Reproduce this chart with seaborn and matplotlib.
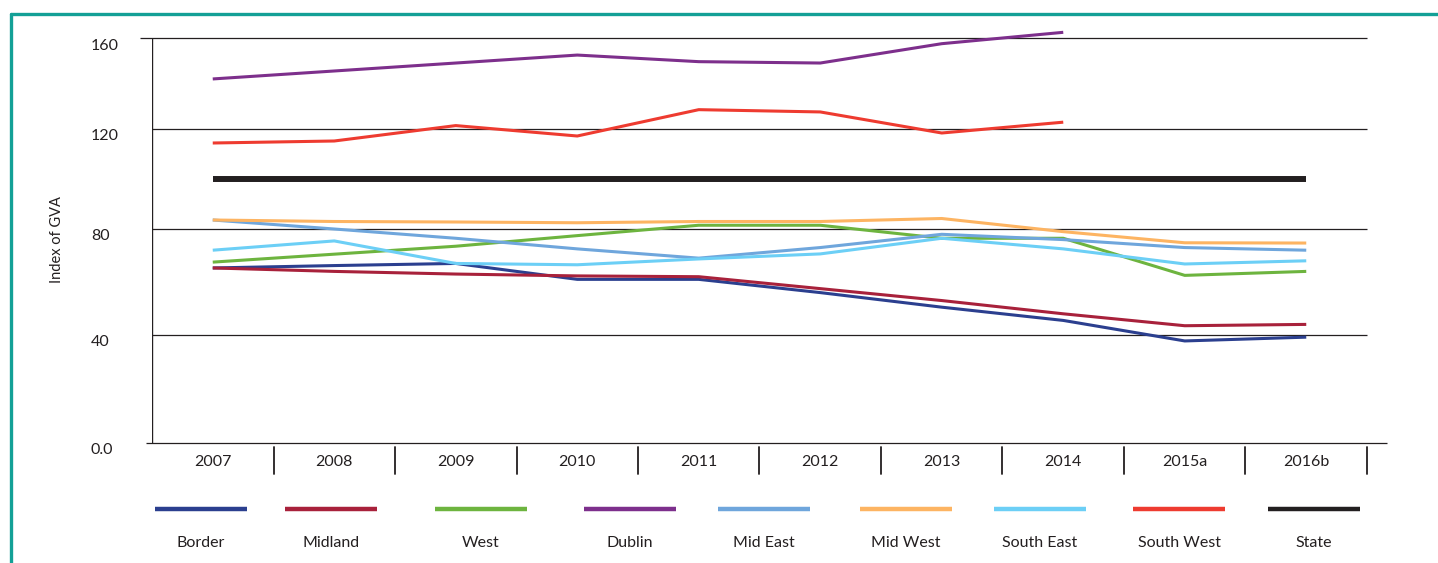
import numpy as np
import pandas as pd
import matplotlib
matplotlib.use('Agg')
import matplotlib.pyplot as plt
import matplotlib.transforms as mtransforms
from matplotlib.lines import Line2D
import seaborn as sns

# --- data ---
years = ['2007', '2008', '2009', '2010', '2011', '2012', '2013', '2014', '2015a', '2016b']
nan = np.nan
border = [65.3, 66.2, 67.0, 61.0, 61.0, 56.0, 50.5, 45.5, 37.8, 39.2]
midland = [65.3, 64.0, 63.0, 62.3, 62.0, 57.5, 53.0, 48.0, 43.5, 44.0]
west = [67.5, 70.5, 73.5, 77.5, 81.5, 81.5, 76.5, 76.5, 62.5, 64.0]
dublin = [142.0, 145.5, 149.0, 152.5, 149.6, 149.0, 157.5, 162.5, nan, nan]
mid_east = [83.6, 80.0, 76.5, 72.5, 69.0, 73.0, 78.0, 76.0, 73.0, 72.0]
mid_west = [83.6, 83.0, 82.8, 82.5, 83.0, 83.0, 84.2, 79.0, 74.8, 74.7]
south_east = [72.0, 75.5, 67.0, 66.5, 68.7, 70.6, 76.5, 72.5, 66.8, 68.0]
south_west = [114.4, 115.2, 121.5, 117.2, 128.5, 127.5, 118.4, 123.0, nan, nan]
state = [100, 100, 100, 100, 100, 100, 100, 100, 100, 100]

regions = ['Border', 'Midland', 'West', 'Dublin', 'Mid East', 'Mid West',
           'South East', 'South West', 'State']
series = [border, midland, west, dublin, mid_east, mid_west, south_east, south_west, state]
colors = ['#2b3f8f', '#a8213b', '#6db43f', '#7d2f8c', '#6fa6dc', '#fdb462',
          '#6ccff6', '#ee3b30', '#231f20']

y_ticks = [0, 40, 80, 120, 160]
y_ticklabels = ['0.0', '40', '80', '120', '160']

# gridlines in the original are not evenly spaced -> piecewise scale
grid_px = [-108, 0, 108, 214, 314, 405, 496]
grid_val = [-40, 0, 40, 80, 120, 160, 200]


def fwd(v):
    return np.interp(v, grid_val, grid_px)


def inv(p):
    return np.interp(p, grid_px, grid_val)


df = pd.DataFrame({'year_idx': np.tile(np.arange(len(years)), len(regions)),
                   'region': np.repeat(regions, len(years)),
                   'value': np.concatenate(series)})

sns.set_style('white')
plt.rcParams['font.family'] = ['Lato', 'DejaVu Sans']
TXT = '#231f20'

W, H = 1438, 563
fig = plt.figure(figsize=(W / 100, H / 100), dpi=100)
ax = fig.add_axes([152 / W, 1 - 443 / H, (1387 - 152) / W, (443 - 38) / H])
ax.set_yscale('function', functions=(fwd, inv))
step = 121.5  # px per year category
x_right = 9.5 + 20 / step

for name, col in zip(regions, colors):
    sub = df[df['region'] == name].dropna()
    lw = 4.3 if name == 'State' else 2.2
    sns.lineplot(data=sub, x='year_idx', y='value', ax=ax, color=col, lw=lw,
                 legend=False, clip_on=False, solid_capstyle='butt')

ax.set_xlim(-0.5, x_right)
ax.set_ylim(0, 160)
for s in ax.spines.values():
    s.set_visible(False)

# grid + axis lines
ax.hlines([40, 80, 120], -0.5, 9.5, color='#231f20', lw=0.9, zorder=0)
ax.hlines(160, -0.5 - 12 / step, 9.5, color='#231f20', lw=0.9, zorder=0, clip_on=False)
ax.hlines(0, -0.5 - 6 / step, x_right, color='#231f20', lw=0.9, clip_on=False)
ax.vlines(-0.5, 0, 160, color='#231f20', lw=1.0)

# year dividers below the axis
trans = ax.get_xaxis_transform()
for k in range(len(years)):
    ax.plot([k + 0.5, k + 0.5], [-4 / 405, -31 / 405], color='#231f20', lw=1.3,
            transform=trans, clip_on=False)

ax.set_xticks(range(len(years)))
ax.set_xticklabels(years)
ax.set_yticks(y_ticks)
ax.set_yticklabels(y_ticklabels)
ax.tick_params(axis='x', length=0, pad=9, labelsize=11.5, labelcolor=TXT)
ax.tick_params(axis='y', length=0, pad=44, labelsize=11.5, labelcolor=TXT)
off = mtransforms.ScaledTranslation(0, -6 / 100, fig.dpi_scale_trans)
for lab in ax.get_yticklabels():
    lab.set_horizontalalignment('left')
    lab.set_transform(lab.get_transform() + off)
ax.set_xlabel('')
ax.set_ylabel('')
fig.text(57 / W, 1 - 240 / H, 'Index of GVA', rotation=90, ha='center', va='center',
         fontsize=10.5, color=TXT)

# legend: line on top, name below
legend_x = [201, 331, 481, 630, 764, 906, 1040, 1179, 1314]
for name, col, cx in zip(regions, colors, legend_x):
    fig.add_artist(Line2D([(cx - 46) / W, (cx + 46) / W], [1 - 509 / H] * 2,
                          color=col, lw=3.2, solid_capstyle='butt'))
    fig.text(cx / W, 1 - 543 / H, name, ha='center', va='center', fontsize=11.5, color=TXT)

# teal frame (top and left edges)
teal = '#13a096'
fig.add_artist(Line2D([11 / W, 1], [1 - 14 / H] * 2, color=teal, lw=2.4))
fig.add_artist(Line2D([11 / W] * 2, [0, 1 - 14 / H], color=teal, lw=2.4))

fig.savefig('out.png', dpi=100)
